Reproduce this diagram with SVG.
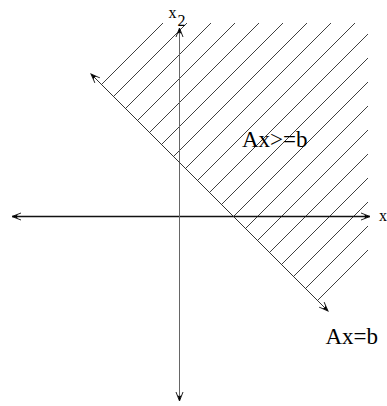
<svg xmlns="http://www.w3.org/2000/svg" width="387" height="406" viewBox="0 0 387 406">
<style>
.hatch line{stroke:#2a2a2a;stroke-width:0.9}
.lbl{font-family:"Liberation Serif","Times New Roman",serif;fill:#000}
</style>
<defs>
<marker id="arr" markerUnits="userSpaceOnUse" viewBox="-10 -5 12 10" refX="0" refY="0" markerWidth="12" markerHeight="10" orient="auto-start-reverse">
<path d="M-9,-3.5 L0,0 L-9,3.5" fill="none" stroke="#222" stroke-width="1"/>
<path d="M0,0 L-6,-2 L-4.5,0 L-6,2 z" fill="#000"/>
</marker>
</defs>
<rect width="387" height="406" fill="#fff"/>
<g id="hatching" class="hatch">
<line x1="101.5" y1="84.5" x2="163" y2="23"/>
<line x1="113.5" y1="96.5" x2="187" y2="23"/>
<line x1="125.5" y1="108.5" x2="211" y2="23"/>
<line x1="137.5" y1="120.5" x2="235" y2="23"/>
<line x1="149.5" y1="132.5" x2="259" y2="23"/>
<line x1="161.5" y1="144.5" x2="283" y2="23"/>
<line x1="173.5" y1="156.5" x2="307" y2="23"/>
<line x1="185.5" y1="168.5" x2="331" y2="23"/>
<line x1="197.5" y1="180.5" x2="355" y2="23"/>
<line x1="209.5" y1="192.5" x2="368" y2="34"/>
<line x1="221.5" y1="204.5" x2="368" y2="58"/>
<line x1="233.5" y1="216.5" x2="368" y2="82"/>
<line x1="245.5" y1="228.5" x2="368" y2="106"/>
<line x1="257.5" y1="240.5" x2="368" y2="130"/>
<line x1="269.5" y1="252.5" x2="368" y2="154"/>
<line x1="281.5" y1="264.5" x2="368" y2="178"/>
<line x1="293.5" y1="276.5" x2="368" y2="202"/>
<line x1="305.5" y1="288.5" x2="368" y2="226"/>
<line x1="317.5" y1="300.5" x2="368" y2="250"/>
</g>
<g id="connectors">
<line id="x1-axis" x1="12" y1="216.5" x2="370" y2="216.5" stroke="#111" stroke-width="1.3" marker-start="url(#arr)" marker-end="url(#arr)"/>
<line id="x2-axis" x1="179.5" y1="401" x2="179.5" y2="28" stroke="#666" stroke-width="1" marker-start="url(#arr)" marker-end="url(#arr)"/>
<line id="boundary" x1="91" y1="74" x2="328" y2="311" stroke="#333" stroke-width="1" marker-start="url(#arr)" marker-end="url(#arr)"/>
</g>
<g id="label-x2">
<text class="lbl" x="168.5" y="17.5" font-size="16">x</text>
<text class="lbl" x="177.5" y="26" font-size="16">2</text>
</g>
<g id="label-x1">
<text class="lbl" x="379" y="221" font-size="16">x</text>
<text class="lbl" x="386" y="229" font-size="16">1</text>
</g>
<g id="label-region">
<text class="lbl" x="242" y="147" font-size="23">Ax&gt;=b</text>
</g>
<g id="label-line">
<text class="lbl" x="325.5" y="344" font-size="23">Ax=b</text>
</g>
</svg>
